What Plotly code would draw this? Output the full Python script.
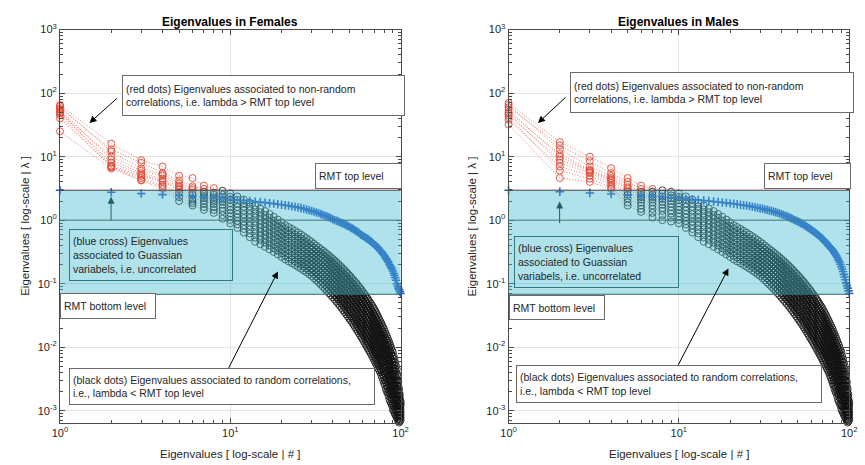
import plotly.graph_objects as go

# ---------------- data ----------------
rmt_top = 2.96
rmt_bottom = 0.068
unit_level = 1.0

x_tick_vals = [1, 10, 100]
x_tick_text = ["10<sup>0</sup>", "10<sup>1</sup>", "10<sup>2</sup>"]
y_tick_vals = [0.001, 0.01, 0.1, 1, 10, 100, 1000]
y_tick_text = ["10<sup>-3</sup>", "10<sup>-2</sup>", "10<sup>-1</sup>", "10<sup>0</sup>",
               "10<sup>1</sup>", "10<sup>2</sup>", "10<sup>3</sup>"]

# Females: eigenvalues of ranks 1..9 for the 10 subjects
fem_r1 = [65, 58, 62, 50, 55, 48, 52, 40, 45, 25]
fem_r2 = [16, 13, 12, 10, 9, 8, 7.2, 7, 6.8, 6.5]
fem_r3 = [8.8, 8, 6.5, 6, 5.5, 5.2, 5, 4.6, 4.3, 4.2]
fem_r4 = [7, 5.5, 5.3, 5, 4.5, 4.2, 4, 3.6, 3.4, 3.1]
fem_r5 = [5.0, 4.2, 3.8, 3.5, 3.3, 3.1, 3.0, 2.7, 2.3, 2.0]
fem_r6 = [4.6, 3.4, 3.2, 3.0, 2.7, 2.5, 2.2, 2.0, 1.85, 1.7]
fem_r7 = [3.5, 3.1, 2.8, 2.6, 2.4, 2.2, 2.0, 1.8, 1.6, 1.45]
fem_r8 = [3.2, 2.7, 2.5, 2.3, 2.1, 1.95, 1.8, 1.6, 1.45, 1.3]
fem_r9 = [2.9, 2.5, 2.3, 2.1, 1.95, 1.75, 1.55, 1.4, 1.2, 1.05]

# Males: eigenvalues of ranks 1..9 for the 10 subjects
mal_r1 = [70, 60, 65, 50, 55, 45, 48, 38, 42, 32]
mal_r2 = [17, 15, 13, 11, 10, 9, 8, 7, 6, 4.6]
mal_r3 = [10, 8.5, 7, 6.2, 6, 5.8, 5.5, 5, 4.5, 4.0]
mal_r4 = [6.6, 5.5, 5, 4.6, 4.4, 4.2, 3.9, 3.6, 3.3, 3.1]
mal_r5 = [4.6, 4.0, 3.6, 3.3, 3.1, 2.8, 2.5, 2.2, 1.9, 1.7]
mal_r6 = [3.5, 3.1, 2.8, 2.5, 2.3, 2.1, 1.9, 1.7, 1.5, 1.35]
mal_r7 = [3.1, 2.8, 2.5, 2.3, 2.1, 1.9, 1.7, 1.5, 1.3, 1.1]
mal_r8 = [2.95, 2.6, 2.35, 2.15, 1.95, 1.75, 1.55, 1.4, 1.2, 1.0]
mal_r9 = [2.8, 2.45, 2.2, 2.0, 1.8, 1.6, 1.42, 1.27, 1.1, 0.95]

# Ranks 10..100 of each subject (the dense band looks the same in both panels)
band_s0 = [2.63, 2.36, 2.11, 1.89, 1.70, 1.53, 1.39, 1.25, 1.13, 1.02,
           0.925, 0.832, 0.778, 0.728, 0.679, 0.635, 0.594, 0.556, 0.52, 0.486,
           0.454, 0.425, 0.397, 0.372, 0.35, 0.33, 0.31, 0.293, 0.276, 0.26,
           0.245, 0.231, 0.218, 0.205, 0.193, 0.182, 0.171, 0.162, 0.152, 0.144,
           0.135, 0.128, 0.12, 0.113, 0.107, 0.101, 0.0948, 0.0893, 0.0843, 0.0794,
           0.0746, 0.07, 0.0658, 0.0618, 0.0581, 0.0545, 0.0512, 0.0481, 0.0452, 0.0424,
           0.0398, 0.037, 0.0344, 0.0319, 0.0296, 0.0275, 0.0256, 0.0238, 0.0221, 0.0205,
           0.019, 0.0175, 0.0161, 0.0149, 0.0137, 0.0126, 0.0116, 0.0107, 0.0098, 0.009,
           0.0083, 0.0073, 0.0065, 0.0057, 0.0051, 0.0045, 0.0035, 0.0028, 0.0022, 0.0018, 0.0014]
band_s1 = [2.33, 2.08, 1.85, 1.65, 1.47, 1.33, 1.20, 1.09, 0.98, 0.887,
           0.80, 0.724, 0.678, 0.634, 0.592, 0.553, 0.518, 0.484, 0.453, 0.424,
           0.395, 0.37, 0.345, 0.323, 0.303, 0.285, 0.268, 0.252, 0.237, 0.223,
           0.21, 0.197, 0.186, 0.175, 0.164, 0.155, 0.145, 0.137, 0.129, 0.121,
           0.114, 0.107, 0.101, 0.0946, 0.0891, 0.0838, 0.0787, 0.074, 0.0697, 0.0656,
           0.0615, 0.0577, 0.0541, 0.0507, 0.0476, 0.0446, 0.0419, 0.0393, 0.0369, 0.0345,
           0.0324, 0.0301, 0.0279, 0.0259, 0.0241, 0.0224, 0.0208, 0.0193, 0.0179, 0.0166,
           0.0153, 0.0141, 0.013, 0.0119, 0.011, 0.0101, 0.0092, 0.0085, 0.0078, 0.0072,
           0.0066, 0.0059, 0.0052, 0.0046, 0.0041, 0.0037, 0.003, 0.0024, 0.0019, 0.0016, 0.0013]
band_s2 = [2.07, 1.83, 1.62, 1.43, 1.27, 1.15, 1.04, 0.942, 0.851, 0.773,
           0.698, 0.631, 0.59, 0.552, 0.515, 0.482, 0.451, 0.422, 0.394, 0.369,
           0.344, 0.322, 0.30, 0.281, 0.263, 0.247, 0.231, 0.217, 0.204, 0.192,
           0.18, 0.169, 0.158, 0.149, 0.139, 0.131, 0.123, 0.116, 0.108, 0.102,
           0.0953, 0.0895, 0.0843, 0.0791, 0.0743, 0.0697, 0.0653, 0.0612, 0.0575, 0.0542,
           0.0507, 0.0475, 0.0445, 0.0416, 0.0391, 0.0365, 0.0343, 0.0321, 0.0301, 0.0281,
           0.0263, 0.0244, 0.0227, 0.0211, 0.0196, 0.0182, 0.0169, 0.0156, 0.0145, 0.0134,
           0.0124, 0.0113, 0.0104, 0.0095, 0.0088, 0.0081, 0.0074, 0.0068, 0.0062, 0.0057,
           0.0052, 0.0047, 0.0042, 0.0038, 0.0034, 0.003, 0.0025, 0.0021, 0.0017, 0.0014, 0.0012]
band_s3 = [1.84, 1.61, 1.42, 1.24, 1.10, 1.00, 0.904, 0.817, 0.738, 0.671,
           0.607, 0.55, 0.514, 0.481, 0.449, 0.42, 0.393, 0.367, 0.344, 0.321,
           0.30, 0.281, 0.261, 0.244, 0.228, 0.213, 0.20, 0.187, 0.175, 0.165,
           0.154, 0.144, 0.135, 0.126, 0.118, 0.111, 0.104, 0.0977, 0.0914, 0.0855,
           0.08, 0.075, 0.0706, 0.0661, 0.0619, 0.0579, 0.0542, 0.0507, 0.0475, 0.0448,
           0.0418, 0.0392, 0.0366, 0.0341, 0.0321, 0.0299, 0.0281, 0.0262, 0.0246, 0.0229,
           0.0214, 0.0199, 0.0185, 0.0171, 0.0159, 0.0148, 0.0137, 0.0127, 0.0117, 0.0108,
           0.01, 0.0091, 0.0084, 0.0077, 0.007, 0.0064, 0.0059, 0.0054, 0.005, 0.0046,
           0.0042, 0.0038, 0.0034, 0.0031, 0.0028, 0.0025, 0.0021, 0.0018, 0.0015, 0.0012, 0.00105]
band_s4 = [1.63, 1.42, 1.24, 1.08, 0.951, 0.867, 0.783, 0.708, 0.64, 0.583,
           0.527, 0.479, 0.448, 0.419, 0.391, 0.366, 0.342, 0.32, 0.299, 0.28,
           0.261, 0.244, 0.226, 0.212, 0.198, 0.185, 0.172, 0.161, 0.15, 0.142,
           0.132, 0.123, 0.115, 0.108, 0.10, 0.0946, 0.0883, 0.0826, 0.0771, 0.0719,
           0.0671, 0.0628, 0.0592, 0.0552, 0.0516, 0.0482, 0.045, 0.042, 0.0393, 0.037,
           0.0344, 0.0323, 0.0301, 0.028, 0.0263, 0.0244, 0.023, 0.0214, 0.0201, 0.0187,
           0.0174, 0.0161, 0.015, 0.0139, 0.0129, 0.012, 0.0112, 0.0103, 0.0095, 0.0087,
           0.008, 0.0073, 0.0067, 0.0061, 0.0056, 0.0052, 0.0047, 0.0043, 0.0039, 0.0036,
           0.0033, 0.003, 0.0027, 0.0025, 0.0022, 0.0021, 0.0018, 0.0015, 0.0013, 0.0011, 0.00095]
band_s5 = [1.45, 1.25, 1.08, 0.94, 0.822, 0.752, 0.679, 0.614, 0.555, 0.507,
           0.458, 0.417, 0.39, 0.365, 0.34, 0.318, 0.298, 0.279, 0.261, 0.244,
           0.228, 0.213, 0.197, 0.184, 0.171, 0.16, 0.149, 0.139, 0.129, 0.122,
           0.113, 0.105, 0.0984, 0.0916, 0.0853, 0.0804, 0.0748, 0.0698, 0.065, 0.0605,
           0.0564, 0.0526, 0.0495, 0.0461, 0.0431, 0.0401, 0.0373, 0.0348, 0.0324, 0.0305,
           0.0284, 0.0266, 0.0247, 0.023, 0.0216, 0.02, 0.0188, 0.0175, 0.0164, 0.0152,
           0.0141, 0.0131, 0.0122, 0.0113, 0.0105, 0.0098, 0.0091, 0.0083, 0.0077, 0.007,
           0.0065, 0.0059, 0.0054, 0.0049, 0.0045, 0.0041, 0.0037, 0.0035, 0.0031, 0.0029,
           0.0026, 0.0024, 0.0022, 0.002, 0.0018, 0.0017, 0.0015, 0.0013, 0.0011, 0.00098, 0.00086]
band_s6 = [1.28, 1.10, 0.948, 0.817, 0.711, 0.652, 0.589, 0.532, 0.481, 0.441,
           0.398, 0.363, 0.34, 0.318, 0.296, 0.277, 0.259, 0.243, 0.227, 0.212,
           0.198, 0.185, 0.171, 0.16, 0.149, 0.138, 0.128, 0.119, 0.111, 0.104,
           0.097, 0.0902, 0.0839, 0.078, 0.0724, 0.0682, 0.0634, 0.059, 0.0548, 0.0509,
           0.0473, 0.0441, 0.0415, 0.0385, 0.0359, 0.0333, 0.031, 0.0288, 0.0268, 0.0252,
           0.0234, 0.0219, 0.0203, 0.0188, 0.0177, 0.0164, 0.0154, 0.0143, 0.0134, 0.0124,
           0.0115, 0.0107, 0.0099, 0.0092, 0.0086, 0.0079, 0.0074, 0.0068, 0.0062, 0.0057,
           0.0052, 0.0047, 0.0043, 0.0039, 0.0036, 0.0033, 0.003, 0.0028, 0.0025, 0.0023,
           0.0021, 0.0019, 0.0018, 0.0016, 0.0015, 0.0014, 0.0012, 0.0011, 0.00098, 0.00087, 0.00078]
band_s7 = [1.14, 0.973, 0.83, 0.71, 0.615, 0.565, 0.511, 0.461, 0.417, 0.383,
           0.346, 0.316, 0.296, 0.277, 0.258, 0.242, 0.226, 0.211, 0.198, 0.185,
           0.173, 0.161, 0.149, 0.139, 0.129, 0.119, 0.111, 0.103, 0.0953, 0.0897,
           0.0832, 0.0771, 0.0716, 0.0664, 0.0615, 0.0579, 0.0537, 0.0499, 0.0462, 0.0429,
           0.0397, 0.0369, 0.0348, 0.0322, 0.0299, 0.0277, 0.0257, 0.0238, 0.0221, 0.0208,
           0.0193, 0.0181, 0.0167, 0.0155, 0.0145, 0.0134, 0.0126, 0.0116, 0.0109, 0.0101,
           0.0093, 0.0087, 0.0081, 0.0075, 0.007, 0.0065, 0.006, 0.0055, 0.005, 0.0046,
           0.0042, 0.0038, 0.0035, 0.0032, 0.0029, 0.0026, 0.0024, 0.0022, 0.002, 0.0018,
           0.0017, 0.0015, 0.0014, 0.0013, 0.0012, 0.00115, 0.00104, 0.00094, 0.00085, 0.00077, 0.00071]
band_s8 = [1.01, 0.857, 0.726, 0.617, 0.532, 0.49, 0.443, 0.40, 0.361, 0.333,
           0.301, 0.275, 0.258, 0.241, 0.225, 0.21, 0.197, 0.184, 0.172, 0.161,
           0.15, 0.141, 0.129, 0.121, 0.112, 0.103, 0.0955, 0.0885, 0.0818, 0.0771,
           0.0713, 0.0659, 0.0611, 0.0565, 0.0522, 0.0492, 0.0455, 0.0422, 0.039, 0.0361,
           0.0333, 0.0309, 0.0291, 0.0269, 0.0249, 0.0231, 0.0213, 0.0197, 0.0183, 0.0172,
           0.0159, 0.0149, 0.0137, 0.0127, 0.0119, 0.011, 0.0103, 0.0095, 0.0089, 0.0082,
           0.0076, 0.007, 0.0065, 0.0061, 0.0056, 0.0052, 0.0049, 0.0044, 0.0041, 0.0037,
           0.0034, 0.003, 0.0028, 0.0025, 0.0023, 0.0021, 0.0019, 0.0018, 0.0016, 0.0015,
           0.0013, 0.0012, 0.00115, 0.00107, 0.001, 0.00095, 0.00087, 0.0008, 0.00074, 0.00068, 0.00064]
band_s9 = [0.89, 0.754, 0.638, 0.54, 0.457, 0.417, 0.38, 0.347, 0.316, 0.288,
           0.263, 0.24, 0.224, 0.21, 0.196, 0.184, 0.172, 0.161, 0.151, 0.141,
           0.132, 0.122, 0.113, 0.104, 0.0966, 0.0893, 0.0826, 0.0766, 0.0708, 0.0656,
           0.0607, 0.0562, 0.0521, 0.0482, 0.0447, 0.0414, 0.0383, 0.0355, 0.0329, 0.0304,
           0.0282, 0.0261, 0.0242, 0.0224, 0.0207, 0.0192, 0.0178, 0.0165, 0.0152, 0.0141,
           0.0131, 0.0122, 0.0113, 0.0105, 0.0097, 0.009, 0.0084, 0.0078, 0.0072, 0.0067,
           0.0062, 0.0058, 0.0054, 0.005, 0.0046, 0.0043, 0.004, 0.0036, 0.0033, 0.003,
           0.0027, 0.0025, 0.0022, 0.002, 0.0019, 0.0017, 0.0015, 0.0014, 0.0013, 0.0012,
           0.00105, 0.00099, 0.00093, 0.00087, 0.00082, 0.00078, 0.00073, 0.00069, 0.00065, 0.00061, 0.00058]

# Gaussian (random-matrix) eigenvalues, ranks 1..100
blue_fem = [2.95, 2.75, 2.62, 2.52, 2.45, 2.38, 2.3, 2.24, 2.18, 2.13,
            2.08, 2.04, 2.0, 1.96, 1.93, 1.89, 1.85, 1.82, 1.78, 1.75,
            1.72, 1.69, 1.65, 1.62, 1.59, 1.55, 1.51, 1.47, 1.43, 1.40,
            1.36, 1.32, 1.29, 1.25, 1.21, 1.18, 1.14, 1.11, 1.07, 1.03,
            1.0, 0.98, 0.95, 0.93, 0.90, 0.88, 0.86, 0.83, 0.81, 0.79,
            0.76, 0.74, 0.72, 0.69, 0.67, 0.65, 0.63, 0.60, 0.58, 0.565,
            0.55, 0.535, 0.52, 0.505, 0.49, 0.475, 0.46, 0.445, 0.43, 0.415,
            0.40, 0.39, 0.375, 0.36, 0.345, 0.33, 0.32, 0.305, 0.29, 0.28,
            0.265, 0.25, 0.24, 0.225, 0.215, 0.2, 0.19, 0.18, 0.17, 0.158,
            0.146, 0.135, 0.124, 0.113, 0.10, 0.092, 0.085, 0.08, 0.075, 0.07]
blue_mal = [2.95, 2.8, 2.68, 2.58, 2.5, 2.43, 2.37, 2.31, 2.26, 2.21,
            2.16, 2.12, 2.08, 2.04, 2.0, 1.97, 1.93, 1.9, 1.87, 1.84,
            1.81, 1.78, 1.75, 1.72, 1.69, 1.66, 1.63, 1.6, 1.57, 1.54,
            1.51, 1.48, 1.45, 1.42, 1.39, 1.36, 1.33, 1.3, 1.27, 1.24,
            1.21, 1.18, 1.15, 1.12, 1.09, 1.06, 1.03, 1.0, 0.975, 0.95,
            0.925, 0.9, 0.875, 0.85, 0.825, 0.8, 0.775, 0.75, 0.725, 0.70,
            0.68, 0.66, 0.64, 0.62, 0.60, 0.58, 0.56, 0.54, 0.52, 0.50,
            0.48, 0.46, 0.445, 0.43, 0.41, 0.395, 0.38, 0.365, 0.35, 0.335,
            0.32, 0.305, 0.29, 0.275, 0.26, 0.245, 0.23, 0.215, 0.2, 0.185,
            0.17, 0.155, 0.14, 0.127, 0.115, 0.103, 0.093, 0.085, 0.077, 0.07]

# ---------------- styling ----------------
W, H = 865, 465
FONT = "Liberation Sans, Arial, Helvetica, sans-serif"
RED = "#de4a36"
REDLINE = "rgba(214,80,60,0.8)"
BLUE = "#2f5cc4"
BAND = "rgba(64,186,204,0.42)"
TOPLINE = "#4b3f3d"
BOTLINE = "#2f6a70"
ONELINE = "#3f7b80"
BOXC = "#6f6866"
BLUEBOXC = "#2e7a80"
AXC = "#4a4a4a"
TXT = "#262626"
GRID = "#e4e4e4"

band_tails = [band_s0, band_s1, band_s2, band_s3, band_s4,
              band_s5, band_s6, band_s7, band_s8, band_s9]
fem_heads = [fem_r1, fem_r2, fem_r3, fem_r4, fem_r5, fem_r6, fem_r7, fem_r8, fem_r9]
mal_heads = [mal_r1, mal_r2, mal_r3, mal_r4, mal_r5, mal_r6, mal_r7, mal_r8, mal_r9]


def subjects_from(heads):
    return [[r[i] for r in heads] + band_tails[i] for i in range(len(band_tails))]


def panel_traces(subjects, blue, xa, ya):
    lx, ly, bx, by, rx, ry = [], [], [], [], [], []
    for s in subjects:
        ks = list(range(1, len(s) + 1))
        lx += ks + [None]
        ly += s + [None]
        for k, v in zip(ks, s):
            if v > rmt_top:
                rx.append(k); ry.append(v)
            else:
                bx.append(k); by.append(v)
    return [
        go.Scatter(x=lx, y=ly, mode="lines", xaxis=xa, yaxis=ya, hoverinfo="skip",
                   line=dict(color=REDLINE, width=0.9, dash="1px,1.8px"), connectgaps=False),
        go.Scatter(x=bx, y=by, mode="markers", xaxis=xa, yaxis=ya, cliponaxis=False,
                   marker=dict(symbol="circle-open", size=7, color="#111111", line=dict(width=0.8))),
        go.Scatter(x=rx, y=ry, mode="markers", xaxis=xa, yaxis=ya, cliponaxis=False,
                   marker=dict(symbol="circle-open", size=7, color=RED, line=dict(width=0.9))),
        go.Scatter(x=list(range(1, len(blue) + 1)), y=blue, mode="markers", xaxis=xa, yaxis=ya,
                   cliponaxis=False,
                   marker=dict(symbol="cross-thin-open", size=6, color=BLUE,
                               line=dict(width=1.6, color=BLUE))),
    ]


fig = go.Figure()
for t in panel_traces(subjects_from(fem_heads), blue_fem, "x", "y"):
    fig.add_trace(t)
for t in panel_traces(subjects_from(mal_heads), blue_mal, "x2", "y2"):
    fig.add_trace(t)

minor_x = [m * 10 ** d for d in range(0, 2) for m in range(2, 10)]
minor_y = [m * 10 ** d for d in range(-4, 3) for m in range(2, 10)]


def axis(domain, rng, tv, tt, minor_vals, anchor):
    return dict(type="log", domain=domain, range=rng, anchor=anchor,
                tickmode="array", tickvals=tv, ticktext=tt,
                ticks="inside", ticklen=5, tickwidth=1, tickcolor=AXC,
                showline=True, linecolor=AXC, linewidth=1, mirror="ticks",
                showgrid=True, gridcolor=GRID, gridwidth=1, zeroline=False,
                tickfont=dict(family=FONT, size=11, color=TXT),
                minor=dict(tickmode="array", tickvals=minor_vals, ticks="inside",
                           ticklen=3, tickcolor=AXC, showgrid=False))


ydom = [1 - 422 / H, 1 - 22 / H]
yr = [-3.19, 3]
fig.update_layout(
    xaxis=axis([53 / W, 400 / W], [0, 2], x_tick_vals, x_tick_text, minor_x, "y"),
    yaxis=axis(ydom, yr, y_tick_vals, y_tick_text, minor_y, "x"),
    xaxis2=axis([510 / W, 857 / W], [0, 2], x_tick_vals, x_tick_text, minor_x, "y2"),
    yaxis2=axis(ydom, yr, y_tick_vals, y_tick_text, minor_y, "x2"),
)

shapes = []
for xr, yrf in (("x", "y"), ("x2", "y2")):
    shapes.append(dict(type="rect", xref=xr + " domain", yref=yrf, x0=0, x1=1,
                       y0=rmt_bottom, y1=rmt_top, fillcolor=BAND, line=dict(width=0),
                       layer="above"))
    shapes.append(dict(type="line", xref=xr + " domain", yref=yrf, x0=0, x1=1,
                       y0=rmt_top, y1=rmt_top, line=dict(color=TOPLINE, width=1), layer="above"))
    shapes.append(dict(type="line", xref=xr + " domain", yref=yrf, x0=0, x1=1,
                       y0=unit_level, y1=unit_level, line=dict(color=ONELINE, width=1), layer="above"))
    shapes.append(dict(type="line", xref=xr + " domain", yref=yrf, x0=0, x1=1,
                       y0=rmt_bottom, y1=rmt_bottom, line=dict(color=BOTLINE, width=1), layer="above"))

ann = []
BW, PAD = 1, 3


def box(left, top, w, h, text, border=BOXC, bg="white"):
    ann.append(dict(xref="paper", yref="paper", x=left / W, y=1 - top / H,
                    xanchor="left", yanchor="top", text=text, showarrow=False,
                    align="left", valign="middle",
                    width=w - 2 * (BW + PAD), height=h - 2 * (BW + PAD),
                    borderpad=PAD, borderwidth=BW, bordercolor=border, bgcolor=bg,
                    font=dict(family=FONT, size=10.5, color=TXT)))


def arrow(hx, hy, tx, ty, color="black"):
    ann.append(dict(xref="paper", yref="paper", x=hx / W, y=1 - hy / H,
                    ax=tx - hx, ay=ty - hy, axref="pixel", ayref="pixel",
                    text="", showarrow=True, arrowhead=2, arrowsize=1.4,
                    arrowwidth=1, arrowcolor=color, standoff=0, startstandoff=0))


def label(x, y, text, size=11.5, angle=0, bold=False):
    ann.append(dict(xref="paper", yref="paper", x=x / W, y=1 - y / H,
                    xanchor="center", yanchor="middle", text=("<b>%s</b>" % text) if bold else text,
                    showarrow=False, textangle=angle,
                    font=dict(family=FONT, size=size, color="black" if bold else TXT)))


red_txt = "(red dots) Eigenvalues associated to non-random<br>correlations, i.e. lambda &gt; RMT top level"
blue_txt = "(blue cross) Eigenvalues<br>associated to Guassian<br>variabels, i.e. uncorrelated"
black_txt = "(black dots) Eigenvalues associated to random correlations,<br>i.e., lambda &lt; RMT top level"

# left panel
box(116, 68, 283, 41, red_txt)
box(313, 158, 87, 26, "RMT top level")
box(62, 225, 164, 52, blue_txt, border=BLUEBOXC, bg="rgba(0,0,0,0)")
box(53, 290, 96, 26, "RMT bottom level")
box(62, 366, 306, 37, black_txt)
arrow(83, 117, 112, 91)
arrow(105, 192, 105, 217, color="#1f5f66")
arrow(275, 268, 225, 366)
label(226.5, 14, "Eigenvalues in Females", size=12, bold=True)
label(226.5, 454, "Eigenvalues [ log-scale | # ]")
label(18, 222, "Eigenvalues [ log-scale | \u03bb ]", angle=-90)

# right panel
box(573, 65, 284, 41, red_txt)
box(770, 158, 87, 26, "RMT top level")
box(516, 232, 165, 52, blue_txt, border=BLUEBOXC, bg="rgba(0,0,0,0)")
box(510, 292, 96, 25, "RMT bottom level")
box(518, 363, 306, 38, black_txt)
arrow(540, 117, 569, 90)
arrow(562, 197, 562, 220, color="#1f5f66")
arrow(734, 265, 683, 363)
label(683.5, 14, "Eigenvalues in Males", size=12, bold=True)
label(683.5, 454, "Eigenvalues [ log-scale | # ]")
label(473, 222, "Eigenvalues [ log-scale | \u03bb ]", angle=-90)

fig.update_layout(
    width=W, height=H, margin=dict(l=0, r=0, t=0, b=0),
    paper_bgcolor="white", plot_bgcolor="white", showlegend=False,
    shapes=shapes, annotations=ann, hovermode=False,
    font=dict(family=FONT, color=TXT),
)

fig.write_html("out.html")
